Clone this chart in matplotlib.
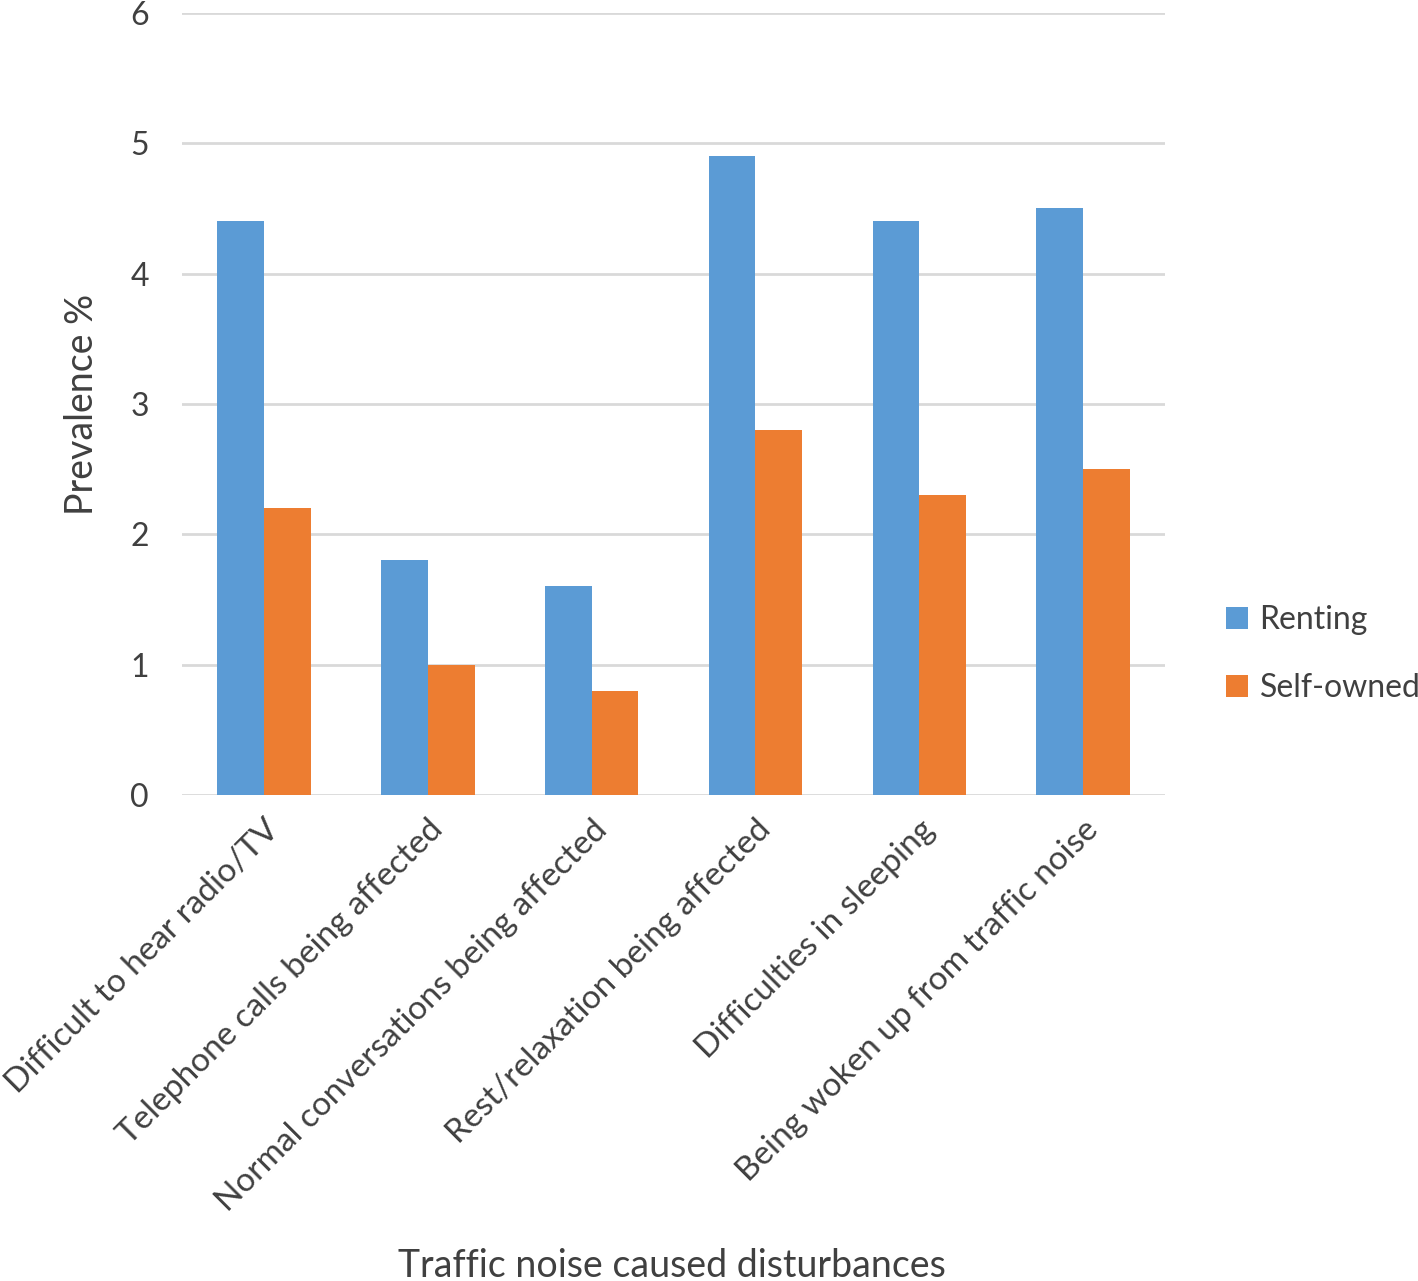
import matplotlib.pyplot as plt
import numpy as np

plt.rcParams['font.family'] = ['Lato', 'DejaVu Sans']

categories = ['Difficult to hear radio/TV', 'Telephone calls being affected',
              'Normal conversations being affected', 'Rest/relaxation being affected',
              'Difficulties in sleeping', 'Being woken up from traffic noise']
renting = [4.4, 1.8, 1.6, 4.9, 4.4, 4.5]
self_owned = [2.2, 1.0, 0.8, 2.8, 2.3, 2.5]

fig = plt.figure(figsize=(14.18, 12.81), dpi=100)
ax = fig.add_axes([0.1284, 0.3794, 0.6932, 0.6105])

x = np.arange(len(categories))
w = 0.285
ax.bar(x - w / 2, renting, w, color='#5b9bd5', label='Renting', zorder=3)
ax.bar(x + w / 2, self_owned, w, color='#ed7d31', label='Self-owned', zorder=3)

ax.set_xlim(-0.5, 5.5)
ax.set_ylim(0, 6)
ax.set_yticks(range(7))
ax.yaxis.grid(True, color='#d9d9d9', linewidth=2, zorder=0)
for s in ax.spines.values():
    s.set_visible(False)
ax.tick_params(length=0, labelsize=23, colors='#404040', pad=24)
ax.tick_params(axis='x', pad=14)
ax.set_xticks(x)
ax.set_xticklabels(categories, rotation=45, ha='right', rotation_mode='anchor', fontsize=24)

ax.set_ylabel('Prevalence %', fontsize=27, color='#404040', labelpad=22)
fig.text(0.474, 0.012, 'Traffic noise caused disturbances', fontsize=27,
         color='#404040', ha='center', va='center')

ax.legend(loc='center left', bbox_to_anchor=(1.062, 0.18), frameon=False,
          fontsize=23, labelcolor='#404040', handlelength=0.7, handleheight=0.7,
          labelspacing=1.2, handletextpad=0.35, borderaxespad=0, borderpad=0)

fig.savefig('out.png', dpi=100)
